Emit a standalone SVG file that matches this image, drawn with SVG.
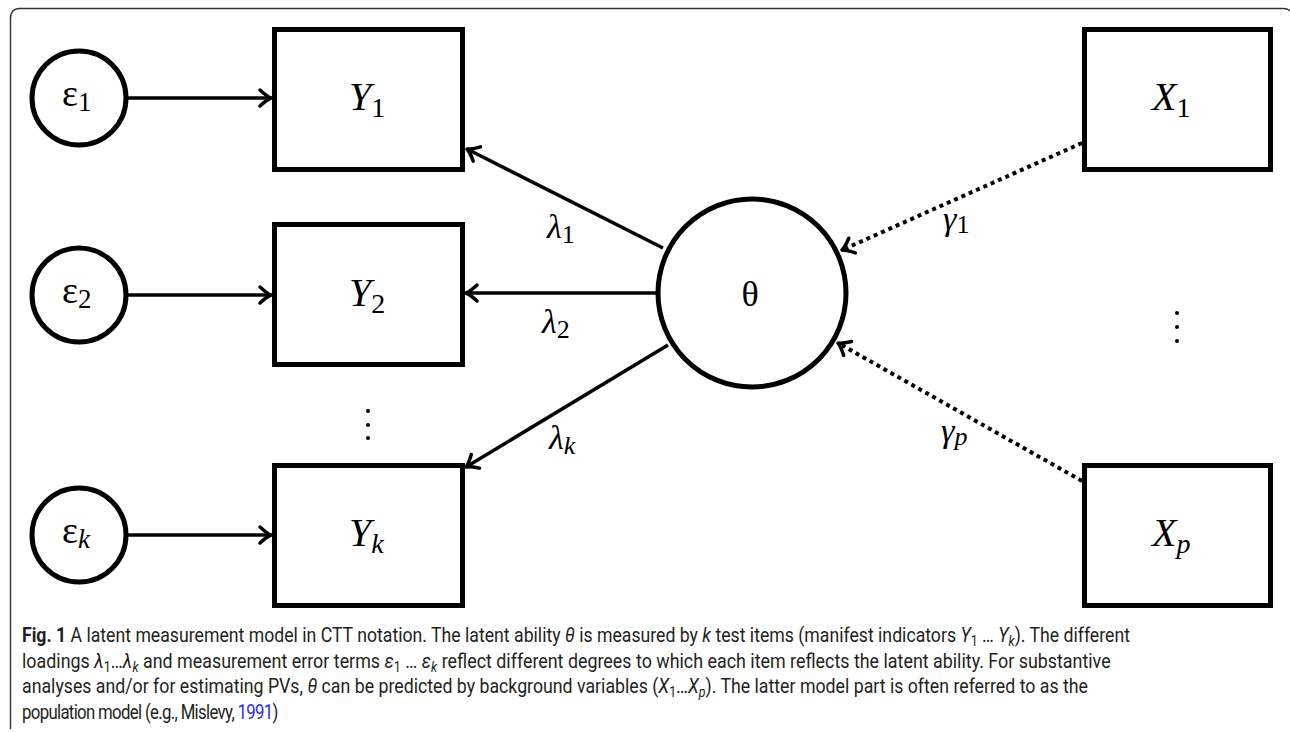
<svg xmlns="http://www.w3.org/2000/svg" width="1290" height="732" viewBox="0 0 1290 732">
<defs>
<marker id="arr" markerUnits="userSpaceOnUse" markerWidth="30" markerHeight="30" viewBox="-15 -15 30 30" refX="0" refY="0" orient="auto">
<path d="M -11 -8 Q -4 -1.5 0 0 Q -4 1.5 -11 8" fill="none" stroke="#000" stroke-width="3.5" stroke-linecap="round" stroke-linejoin="round"/>
</marker>
<style>
.box{fill:#fff;stroke:#000;stroke-width:5}
.circ{fill:#fff;stroke:#000;stroke-width:5}
.edge{stroke:#000;stroke-width:3.5;fill:none;marker-end:url(#arr)}
.dot{stroke:#000;stroke-width:4;fill:none;stroke-dasharray:4 4;marker-end:url(#arr)}
.m{font-family:"Liberation Serif","DejaVu Serif",serif;font-style:normal;fill:#000}
.mi{font-family:"Liberation Serif","DejaVu Serif",serif;font-style:italic;fill:#000}
.cap{font-family:Roboto,"Liberation Sans",sans-serif;font-size:20px;fill:#231f20}
.sub{font-size:14px}
.it{font-style:italic}
</style>
</defs>
<path d="M 10.5 729 V 18 Q 10.5 8.5 20 8.5 H 1283 Q 1288 8.5 1290 11" fill="none" stroke="#333" stroke-width="1.4"/>
<g id="connectors">
<line class="edge" x1="127" y1="98" x2="271" y2="98"/>
<line class="edge" x1="127" y1="295" x2="271" y2="295"/>
<line class="edge" x1="127" y1="535" x2="271" y2="535"/>
<line class="edge" x1="663" y1="248" x2="467" y2="149"/>
<line class="edge" x1="656" y1="293" x2="466" y2="293"/>
<line class="edge" x1="668" y1="345" x2="466" y2="467"/>
<line class="dot" x1="1082" y1="143" x2="842" y2="250"/>
<line class="dot" x1="1082" y1="481" x2="838" y2="343"/>
</g>
<g id="eps1"><circle class="circ" cx="79" cy="98" r="47"/><text class="m" x="62" y="106" font-size="38">ε<tspan font-size="27" dy="5">1</tspan></text></g>
<g id="eps2"><circle class="circ" cx="79" cy="295" r="47"/><text class="m" x="62" y="303" font-size="38">ε<tspan font-size="27" dy="5">2</tspan></text></g>
<g id="epsk"><circle class="circ" cx="79" cy="535" r="47"/><text class="m" x="62" y="543" font-size="38">ε<tspan class="mi" font-size="27" dy="5">k</tspan></text></g>
<g id="Y1"><rect class="box" x="274.5" y="29.5" width="188" height="140"/><text class="mi" x="349" y="110" font-size="40">Y<tspan class="m" font-size="28" dy="7">1</tspan></text></g>
<g id="Y2"><rect class="box" x="274.5" y="224.5" width="188" height="140"/><text class="mi" x="349" y="306" font-size="40">Y<tspan class="m" font-size="28" dy="7">2</tspan></text></g>
<g id="Yk"><rect class="box" x="274.5" y="465.5" width="188" height="140"/><text class="mi" x="349" y="546" font-size="40">Y<tspan font-size="28" dy="7">k</tspan></text></g>
<g id="theta"><circle class="circ" cx="752" cy="293" r="94"/><text class="m" x="750" y="306" font-size="36" text-anchor="middle">θ</text></g>
<g id="X1"><rect class="box" x="1084.5" y="29.5" width="186" height="140"/><text class="mi" x="1152" y="110" font-size="40">X<tspan class="m" font-size="28" dy="7">1</tspan></text></g>
<g id="Xp"><rect class="box" x="1084.5" y="465.5" width="186" height="140"/><text class="mi" x="1152" y="546" font-size="40">X<tspan font-size="28" dy="7">p</tspan></text></g>
<g id="labels">
<text class="mi" x="547" y="238" font-size="34">λ<tspan class="m" font-size="26" dy="5">1</tspan></text>
<text class="mi" x="542" y="333" font-size="34">λ<tspan class="m" font-size="26" dy="5">2</tspan></text>
<text class="mi" x="549" y="449" font-size="34">λ<tspan font-size="26" dy="5">k</tspan></text>
<text class="mi" x="943" y="230" font-size="34">γ<tspan class="m" font-size="26" dy="3">1</tspan></text>
<text class="mi" x="941" y="442" font-size="34">γ<tspan font-size="26" dy="3">p</tspan></text>
</g>
<g id="vdots" fill="#000">
<circle cx="368" cy="411" r="2"/><circle cx="368" cy="425" r="2"/><circle cx="368" cy="438" r="2"/>
<circle cx="1177" cy="313" r="2"/><circle cx="1177" cy="327" r="2"/><circle cx="1177" cy="341" r="2"/>
</g>
<g id="caption" transform="translate(22,0) scale(0.84,1)">
<text class="cap" x="0" y="642" textLength="1319" lengthAdjust="spacingAndGlyphs"><tspan font-weight="bold">Fig. 1</tspan> A latent measurement model in CTT notation. The latent ability <tspan class="it">θ</tspan> is measured by <tspan class="it">k</tspan> test items (manifest indicators <tspan class="it">Y</tspan><tspan class="sub" dy="4">1</tspan><tspan dy="-4"> … </tspan><tspan class="it">Y</tspan><tspan class="sub it" dy="4">k</tspan><tspan dy="-4">). The different</tspan></text>
<text class="cap" x="0" y="668" textLength="1296" lengthAdjust="spacingAndGlyphs">loadings <tspan class="it">λ</tspan><tspan class="sub" dy="4">1</tspan><tspan dy="-4">…</tspan><tspan class="it">λ</tspan><tspan class="sub it" dy="4">k</tspan><tspan dy="-4"> and measurement error terms </tspan><tspan class="it">ε</tspan><tspan class="sub" dy="4">1</tspan><tspan dy="-4"> … </tspan><tspan class="it">ε</tspan><tspan class="sub it" dy="4">k</tspan><tspan dy="-4"> reflect different degrees to which each item reflects the latent ability. For substantive</tspan></text>
<text class="cap" x="0" y="693" textLength="1269" lengthAdjust="spacingAndGlyphs">analyses and/or for estimating PVs, <tspan class="it">θ</tspan> can be predicted by background variables (<tspan class="it">X</tspan><tspan class="sub" dy="4">1</tspan><tspan dy="-4">…</tspan><tspan class="it">X</tspan><tspan class="sub it" dy="4">p</tspan><tspan dy="-4">). The latter model part is often referred to as the</tspan></text>
<text class="cap" x="0" y="719" font-size="19" letter-spacing="-0.8">population model (e.g., Mislevy, <tspan fill="#2b2be0">1991</tspan>)</text>
</g>
</svg>
